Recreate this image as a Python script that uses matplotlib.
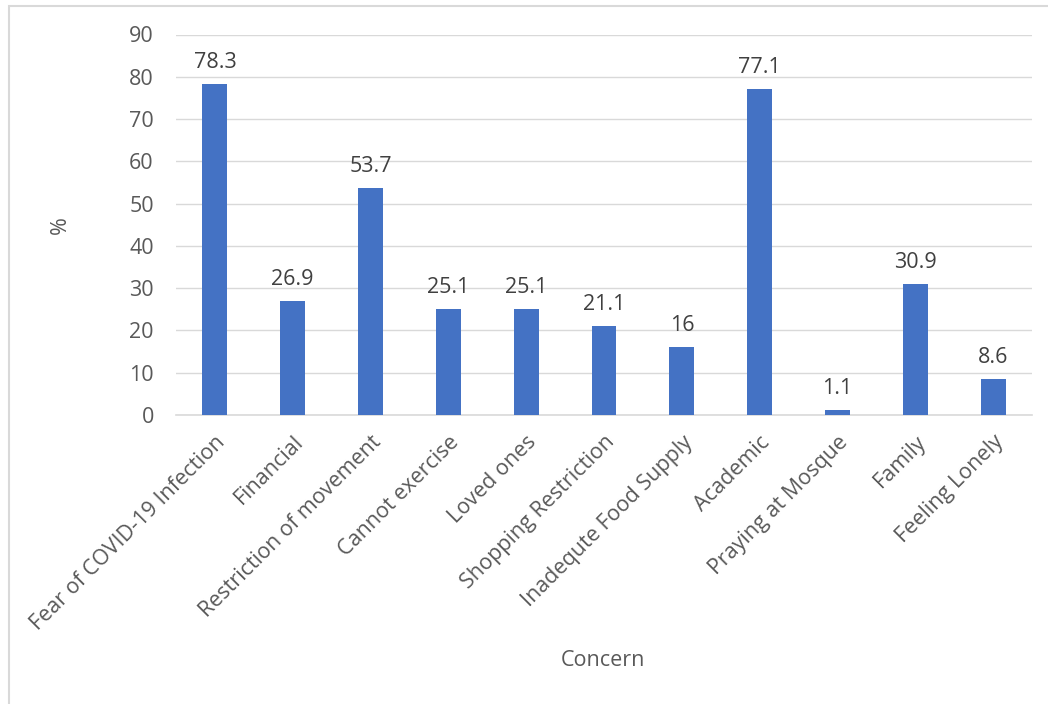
import numpy as np
import matplotlib.pyplot as plt
from matplotlib.patches import Rectangle

categories = ["Fear of COVID-19 Infection", "Financial", "Restriction of movement",
              "Cannot exercise", "Loved ones", "Shopping Restriction",
              "Inadequte Food Supply", "Academic", "Praying at Mosque",
              "Family", "Feeling Lonely"]
values = [78.3, 26.9, 53.7, 25.1, 25.1, 21.1, 16, 77.1, 1.1, 30.9, 8.6]
labels = ["78.3", "26.9", "53.7", "25.1", "25.1", "21.1", "16", "77.1", "1.1", "30.9", "8.6"]

plt.rcParams['font.family'] = ['Open Sans', 'DejaVu Sans']
text_color = '#595959'
fs = 15.5

fig = plt.figure(figsize=(10.48, 7.04), dpi=100)
ax = fig.add_axes([176/1048, 1-415/704, (1032-176)/1048, (415-34.5)/704])

# light outer border of the chart area
fig.patches.append(Rectangle((9/1048, -0.1), 1.2, 1 - 6/704 + 0.1, transform=fig.transFigure,
                             fill=False, edgecolor='#D9D9D9', linewidth=1.5))

x = np.arange(len(categories))
ax.bar(x, values, width=0.32, color='#4472C4', zorder=3)

for xi, v, lab in zip(x, values, labels):
    ax.annotate(lab, (xi, v), xytext=(0, 8), textcoords='offset points',
                ha='center', va='bottom', fontsize=fs, color='#404040')

ax.set_xlim(-0.5, len(categories) - 0.5)
ax.set_ylim(0, 90)
ax.set_yticks(np.arange(0, 91, 10))
ax.grid(axis='y', color='#D9D9D9', linewidth=1, zorder=0)
ax.set_xticks(x)
ax.set_xticklabels(categories, rotation=45, ha='right', rotation_mode='anchor',
                   fontsize=fs, color=text_color)
ax.tick_params(axis='y', labelsize=fs, labelcolor=text_color, length=0, pad=16)
ax.tick_params(axis='x', length=0, pad=12)

for s in ['top', 'right', 'left']:
    ax.spines[s].set_visible(False)
ax.spines['bottom'].set_color('#D9D9D9')
ax.spines['bottom'].set_linewidth(1.2)

fig.text(60/1048, 1-225/704, '%', rotation=90, ha='center', va='center',
         fontsize=fs, color=text_color)
fig.text(603/1048, 1-660/704, 'Concern', ha='center', va='center',
         fontsize=fs, color=text_color)

fig.savefig('out.png', dpi=100)
